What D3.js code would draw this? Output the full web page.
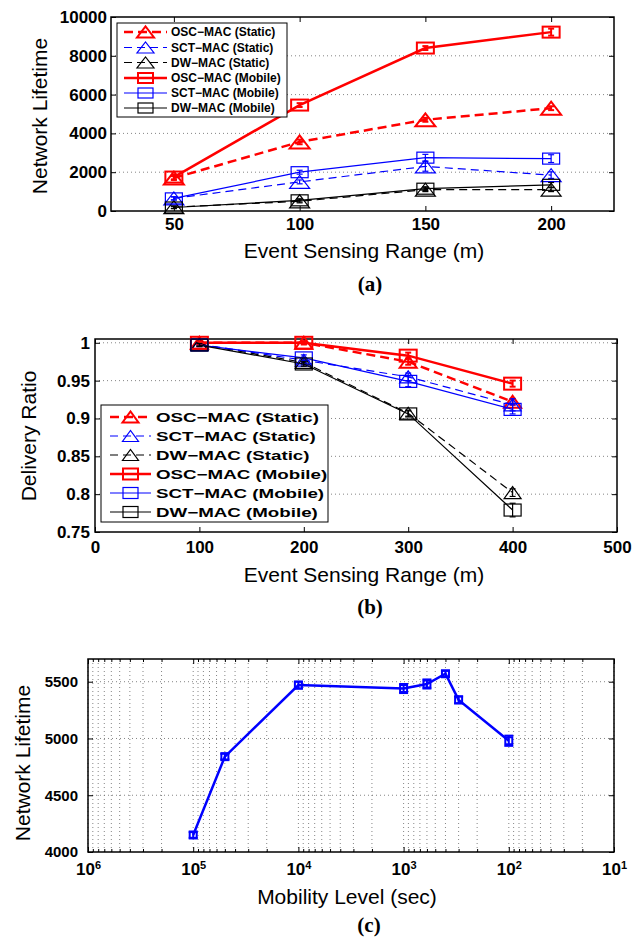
<!DOCTYPE html>
<html>
<head>
<meta charset="utf-8">
<script src="https://cdn.jsdelivr.net/npm/d3@7"></script>
<style>
  body { margin: 0; background: #fff; }
  svg { display: block; }
</style>
</head>
<body>
<div id="chart"></div>
<script>
// ---- panel (a): network lifetime vs event sensing range
const rangeA = [50, 100, 150, 200];
const oscStaticA = [1700, 3560, 4700, 5300];
const sctStaticA = [650, 1500, 2300, 1850];
const dwStaticA = [200, 500, 1100, 1100];
const oscMobileA = [1750, 5460, 8400, 9220];
const sctMobileA = [650, 2000, 2750, 2700];
const dwMobileA = [180, 550, 1150, 1350];
const oscStaticErrA = [100, 120, 100, 100];
const sctStaticErrA = [80, 100, 250, 170];
const dwStaticErrA = [60, 80, 100, 100];
const oscMobileErrA = [120, 100, 100, 180];
const sctMobileErrA = [80, 100, 170, 200];
const dwMobileErrA = [60, 80, 100, 120];
const xTicksA = [50, 100, 150, 200];
const yTicksA = [0, 2000, 4000, 6000, 8000, 10000];

// ---- panel (b): delivery ratio vs event sensing range
const rangeB = [100, 200, 300, 400];
const oscStaticB = [1.0, 1.0, 0.975, 0.922];
const sctStaticB = [0.998, 0.977, 0.955, 0.918];
const dwStaticB = [0.998, 0.974, 0.907, 0.802];
const oscMobileB = [1.0, 1.0, 0.983, 0.946];
const sctMobileB = [0.997, 0.98, 0.949, 0.912];
const dwMobileB = [0.997, 0.972, 0.906, 0.779];
const oscStaticErrB = [0.002, 0.002, 0.004, 0.004];
const sctStaticErrB = [0.002, 0.003, 0.005, 0.008];
const dwStaticErrB = [0.002, 0.003, 0.004, 0.005];
const oscMobileErrB = [0.002, 0.002, 0.004, 0.004];
const sctMobileErrB = [0.002, 0.004, 0.007, 0.006];
const dwMobileErrB = [0.002, 0.003, 0.004, 0.009];
const xTicksB = [0, 100, 200, 300, 400, 500];
const yTicksB = [0.75, 0.8, 0.85, 0.9, 0.95, 1];

// ---- panel (c): network lifetime vs mobility level
const mobilityC = [100000, 50000, 10000, 1000, 600, 400, 300, 100];
const lifetimeC = [4150, 4840, 5470, 5440, 5480, 5570, 5340, 4980];
const errC = [25, 25, 30, 40, 40, 25, 30, 45];
const xTicksC = [1e6, 1e5, 1e4, 1e3, 1e2, 1e1];
const yTicksC = [4000, 4500, 5000, 5500];

const seriesLabels = [
  "OSC\u2212MAC (Static)", "SCT\u2212MAC (Static)", "DW\u2212MAC (Static)",
  "OSC\u2212MAC (Mobile)", "SCT\u2212MAC (Mobile)", "DW\u2212MAC (Mobile)"
];

const styles = [
  { color: "#ff0000", width: 2.5, dash: "9,5", marker: "tri" },
  { color: "#0000ff", width: 1.2, dash: "8,5", marker: "tri" },
  { color: "#000000", width: 1.2, dash: "8,5", marker: "tri" },
  { color: "#ff0000", width: 2.5, dash: null, marker: "sq" },
  { color: "#0000ff", width: 1.2, dash: null, marker: "sq" },
  { color: "#000000", width: 1.2, dash: null, marker: "sq" }
];

const SANS = "'Liberation Sans', Arial, Helvetica, sans-serif";
const SERIF = "'Liberation Serif', 'Times New Roman', serif";

const svg = d3.select("#chart").append("svg")
  .attr("width", 641)
  .attr("height", 943);

function marker(g, type, cx, cy, w, h, color, lw) {
  if (type === "tri") {
    g.append("path")
      .attr("d", `M${cx - w / 2},${cy + h / 2}L${cx + w / 2},${cy + h / 2}L${cx},${cy - h / 2}Z`)
      .attr("fill", "none").attr("stroke", color).attr("stroke-width", lw)
      .attr("stroke-linejoin", "miter");
  } else {
    g.append("rect")
      .attr("x", cx - w / 2).attr("y", cy - h / 2)
      .attr("width", w).attr("height", h)
      .attr("fill", "none").attr("stroke", color).attr("stroke-width", lw);
  }
}

function errorBar(g, x, y, v, e, cap, color, lw) {
  const px = x, y1 = y(v - e), y2 = y(v + e);
  g.append("line").attr("x1", px).attr("x2", px).attr("y1", y1).attr("y2", y2)
    .attr("stroke", color).attr("stroke-width", lw);
  [y1, y2].forEach(yy => {
    g.append("line").attr("x1", px - cap / 2).attr("x2", px + cap / 2)
      .attr("y1", yy).attr("y2", yy)
      .attr("stroke", color).attr("stroke-width", lw);
  });
}

// box, grid, inward ticks on all four sides
function frame(g, box, x, y, opt) {
  const w = box.r - box.l, h = box.b - box.t;

  g.append("g").selectAll("line")
    .data(opt.yGrid)
    .join("line")
    .attr("x1", 0).attr("x2", w)
    .attr("y1", d => y(d)).attr("y2", d => y(d))
    .attr("stroke", "#666").attr("stroke-width", 0.8)
    .attr("stroke-dasharray", "1,3");

  if (opt.xGrid) {
    g.append("g").selectAll("line")
      .data(opt.xGrid)
      .join("line")
      .attr("x1", d => x(d)).attr("x2", d => x(d))
      .attr("y1", 0).attr("y2", h)
      .attr("stroke", "#666").attr("stroke-width", 0.8)
      .attr("stroke-dasharray", "1,3");
  }

  const bottom = g.append("g")
    .attr("transform", `translate(0,${h})`)
    .call(d3.axisBottom(x).tickValues(opt.xTicks).tickSize(-5)
      .tickPadding(opt.xPad).tickFormat(opt.xFormat || (d => d)));
  const left = g.append("g")
    .call(d3.axisLeft(y).tickValues(opt.yTicks).tickSize(-5)
      .tickPadding(opt.yPad).tickFormat(d => d));
  g.append("g").call(d3.axisTop(x).tickValues(opt.xTicks).tickSize(-5).tickFormat(""));
  g.append("g").attr("transform", `translate(${w},0)`)
    .call(d3.axisRight(y).tickValues(opt.yTicks).tickSize(-5).tickFormat(""));

  if (opt.minorX) {
    g.append("g").attr("transform", `translate(0,${h})`)
      .call(d3.axisBottom(x).tickValues(opt.minorX).tickSize(-3).tickFormat(""));
    g.append("g")
      .call(d3.axisTop(x).tickValues(opt.minorX).tickSize(-3).tickFormat(""));
  }

  g.selectAll(".domain").remove();
  g.selectAll(".tick line").attr("stroke", "#000").attr("stroke-width", 1);

  bottom.selectAll("text")
    .attr("font-family", SANS).attr("font-weight", "bold")
    .attr("font-size", opt.xFont).attr("fill", "#000");
  left.selectAll("text")
    .attr("font-family", SANS).attr("font-weight", "bold")
    .attr("font-size", opt.yFont).attr("fill", "#000");

  g.append("rect")
    .attr("width", w).attr("height", h)
    .attr("fill", "none").attr("stroke", "#000").attr("stroke-width", 1.5);
  return bottom;
}

function textLabels(cfg) {
  svg.append("text")
    .attr("transform", `translate(${cfg.yl[0]},${cfg.yl[1]}) rotate(-90)`)
    .attr("text-anchor", "middle")
    .attr("font-family", SANS).attr("font-size", 21)
    .text(cfg.ylabel);
  svg.append("text")
    .attr("x", cfg.xl[0]).attr("y", cfg.xl[1])
    .attr("text-anchor", "middle")
    .attr("font-family", SANS).attr("font-size", 21)
    .text(cfg.xlabel);
  svg.append("text")
    .attr("x", cfg.cap[0]).attr("y", cfg.cap[1])
    .attr("text-anchor", "middle")
    .attr("font-family", SERIF).attr("font-weight", "bold").attr("font-size", 21)
    .text(cfg.caption);
}

function seriesPlot(g, x, y, xs, data, errs, ms, cap) {
  const line = d3.line().x(d => x(d[0])).y(d => y(d[1]));
  data.forEach((vals, i) => {
    const s = styles[i];
    const pts = xs.map((v, k) => [v, vals[k]]);
    g.append("path")
      .attr("d", line(pts))
      .attr("fill", "none")
      .attr("stroke", s.color)
      .attr("stroke-width", s.width)
      .attr("stroke-dasharray", s.dash);
    pts.forEach((p, k) => {
      errorBar(g, x(p[0]), y, p[1], errs[i][k], cap, s.color, s.width > 2 ? 2 : 1.2);
      const m = s.marker === "tri" ? ms.tri : ms.sq;
      marker(g, s.marker, x(p[0]), y(p[1]), m[0], m[1], s.color, s.width > 2 ? 2 : 1.2);
    });
  });
}

function legend(box, rows, sample, textX, font, sx, ms) {
  const lg = svg.append("g");
  lg.append("rect")
    .attr("x", box.l).attr("y", box.t)
    .attr("width", box.r - box.l).attr("height", box.b - box.t)
    .attr("fill", "#fff").attr("stroke", "#000").attr("stroke-width", 1);
  seriesLabels.forEach((label, i) => {
    const s = styles[i];
    const yy = rows[i];
    lg.append("line")
      .attr("x1", sample[0]).attr("x2", sample[1])
      .attr("y1", yy).attr("y2", yy)
      .attr("stroke", s.color).attr("stroke-width", s.width)
      .attr("stroke-dasharray", s.dash);
    const m = s.marker === "tri" ? ms.tri : ms.sq;
    marker(lg, s.marker, (sample[0] + sample[1]) / 2, yy, m[0], m[1], s.color, s.width > 2 ? 2 : 1.2);
    lg.append("text")
      .attr("transform", `translate(${textX},${yy + font * 0.36}) scale(${sx},1)`)
      .attr("font-family", SANS).attr("font-weight", "bold")
      .attr("font-size", font)
      .text(label);
  });
}

// ================= (a)
{
  const box = { l: 111, r: 614, t: 17, b: 211 };
  const x = d3.scaleLinear().domain([25, 225]).range([0, box.r - box.l]);
  const y = d3.scaleLinear().domain([0, 10000]).range([box.b - box.t, 0]);
  const g = svg.append("g").attr("transform", `translate(${box.l},${box.t})`);
  frame(g, box, x, y, {
    yGrid: [2000, 4000, 6000, 8000], xTicks: xTicksA, yTicks: yTicksA,
    xPad: 7, yPad: 4, xFont: 17, yFont: 17
  });
  seriesPlot(g, x, y, rangeA,
    [oscStaticA, sctStaticA, dwStaticA, oscMobileA, sctMobileA, dwMobileA],
    [oscStaticErrA, sctStaticErrA, dwStaticErrA, oscMobileErrA, sctMobileErrA, dwMobileErrA],
    { tri: [20, 13], sq: [17, 11] }, 6);
  legend({ l: 117, r: 287, t: 23, b: 117 }, [32, 47.5, 62.5, 78, 93, 108],
    [124, 167], 171, 12, 1.0, { tri: [17, 11], sq: [15, 10] });
  textLabels({
    ylabel: "Network Lifetime", yl: [47, 116],
    xlabel: "Event Sensing Range (m)", xl: [364, 258],
    caption: "(a)", cap: [370, 291]
  });
}

// ================= (b)
{
  const box = { l: 95, r: 617, t: 339, b: 532 };
  const x = d3.scaleLinear().domain([0, 500]).range([0, box.r - box.l]);
  const y = d3.scaleLinear().domain([0.75, 1.005]).range([box.b - box.t, 0]);
  const g = svg.append("g").attr("transform", `translate(${box.l},${box.t})`);
  frame(g, box, x, y, {
    yGrid: [0.8, 0.85, 0.9, 0.95, 1], xTicks: xTicksB, yTicks: yTicksB,
    xPad: 9, yPad: 5, xFont: 17, yFont: 17
  });
  seriesPlot(g, x, y, rangeB,
    [oscStaticB, sctStaticB, dwStaticB, oscMobileB, sctMobileB, dwMobileB],
    [oscStaticErrB, sctStaticErrB, dwStaticErrB, oscMobileErrB, sctMobileErrB, dwMobileErrB],
    { tri: [17, 12], sq: [17, 12] }, 6);
  legend({ l: 101, r: 328, t: 405, b: 522 }, [417, 436, 455, 474, 493, 512],
    [110, 151], 156, 12.5, 1.5, { tri: [16, 11], sq: [15, 11] });
  textLabels({
    ylabel: "Delivery Ratio", yl: [36, 436],
    xlabel: "Event Sensing Range (m)", xl: [364, 582],
    caption: "(b)", cap: [370, 614]
  });
}

// ================= (c)
{
  const box = { l: 88, r: 614, t: 659, b: 852 };
  const x = d3.scaleLog().domain([1e6, 10]).range([0, box.r - box.l]);
  const y = d3.scaleLinear().domain([4000, 5700]).range([box.b - box.t, 0]);
  const g = svg.append("g").attr("transform", `translate(${box.l},${box.t})`);
  const minor = [];
  [10, 100, 1000, 10000, 100000].forEach(dec => {
    for (let m = 2; m <= 9; m++) minor.push(m * dec);
  });
  const bottom = frame(g, box, x, y, {
    yGrid: [4500, 5000, 5500], xGrid: xTicksC.concat(minor),
    xTicks: xTicksC, yTicks: yTicksC, minorX: minor,
    xPad: 11, yPad: 10, xFont: 17, yFont: 15, xFormat: () => ""
  });
  bottom.selectAll(".tick text").each(function (d) {
    const t = d3.select(this);
    t.text(null);
    t.append("tspan").text("10");
    t.append("tspan").attr("dy", "-0.55em").attr("font-size", 11)
      .text(Math.round(Math.log10(d)));
  });

  const line = d3.line().x((d, i) => x(mobilityC[i])).y(d => y(d));
  g.append("path")
    .attr("d", line(lifetimeC))
    .attr("fill", "none").attr("stroke", "#0000ff").attr("stroke-width", 2.5);
  lifetimeC.forEach((v, i) => {
    errorBar(g, x(mobilityC[i]), y, v, errC[i], 9, "#0000ff", 2);
    marker(g, "sq", x(mobilityC[i]), y(v), 7, 7, "#0000ff", 2);
  });

  textLabels({
    ylabel: "Network Lifetime", yl: [30, 763],
    xlabel: "Mobility Level (sec)", xl: [347, 904],
    caption: "(c)", cap: [369, 932]
  });
}
</script>
</body>
</html>
